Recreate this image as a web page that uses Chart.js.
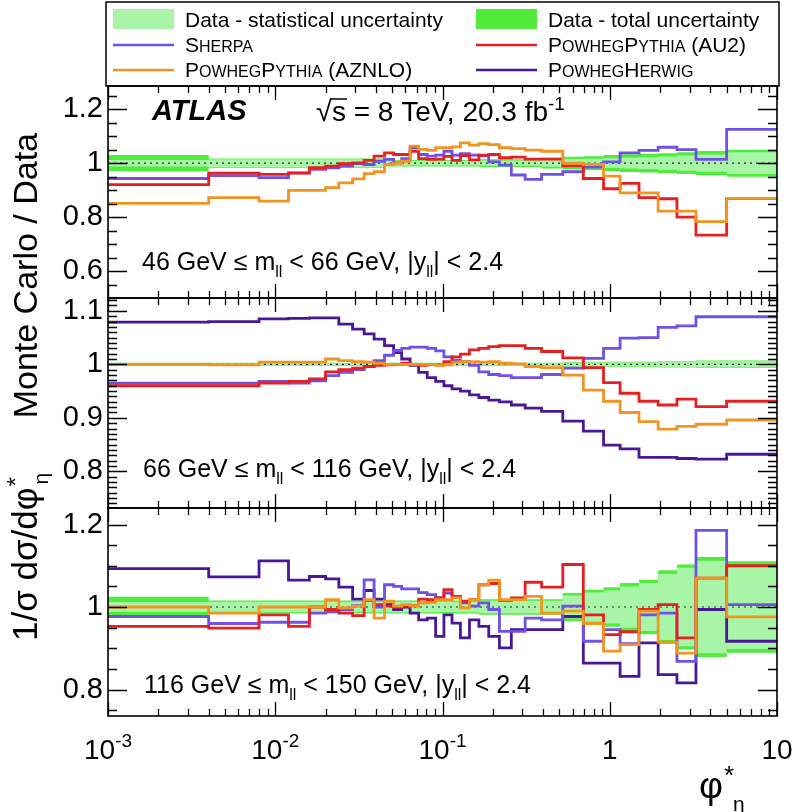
<!DOCTYPE html>
<html><head><meta charset="utf-8">
<script src="https://cdn.jsdelivr.net/npm/chart.js@4.4.1/dist/chart.umd.min.js"></script>
<style>
html,body{margin:0;padding:0;background:#fff;}
#wrap{position:relative;width:796px;height:812px;overflow:hidden;}
#wrap canvas{position:absolute;left:0;top:0;}
</style></head><body>
<div id="wrap">
<canvas id="c1" width="796" height="812"></canvas>
<canvas id="c2" width="796" height="812"></canvas>
<canvas id="c3" width="796" height="812"></canvas>
</div>
<script>
// ---------------- data ----------------
const binEdges = [0.001,0.004,0.008,0.012,0.016,0.020,0.024,0.029,0.034,0.039,0.045,0.051,0.057,0.064,0.072,0.081,0.091,0.102,0.114,0.128,0.145,0.165,0.189,0.219,0.258,0.312,0.391,0.524,0.695,0.918,1.153,1.496,1.947,2.522,3.277,5.0,10.0];

// 46 GeV <= mll < 66 GeV
const m46Sherpa = [0.943,0.954,0.946,0.964,0.977,0.983,0.989,0.998,0.995,1.007,1.014,1.001,1.017,1.057,1.032,1.026,1.030,1.044,1.030,1.035,1.030,1.027,1.005,0.993,0.956,0.940,0.958,0.968,0.985,1.005,1.038,1.047,1.059,1.050,1.014,1.125];
const m46PowPyAU2 = [0.920,0.963,0.958,0.963,0.983,0.989,0.998,1.001,1.010,1.026,1.038,1.032,1.032,1.044,1.017,1.014,1.015,1.025,1.010,1.028,1.012,1.030,1.032,1.020,1.022,1.015,1.015,0.990,0.943,0.905,0.925,0.872,0.868,0.800,0.733,0.869];
const m46PowPyAZNLO = [0.851,0.872,0.859,0.899,0.899,0.909,0.927,0.942,0.961,0.968,0.995,1.000,1.007,1.063,1.051,1.047,1.057,1.057,1.060,1.075,1.067,1.072,1.069,1.057,1.054,1.048,1.044,1.000,0.995,0.952,0.890,0.890,0.822,0.822,0.783,0.869];
const m46StatUnc = [0.012,0.014,0.014,0.014,0.014,0.014,0.014,0.014,0.014,0.014,0.009,0.009,0.009,0.009,0.009,0.009,0.009,0.009,0.009,0.009,0.009,0.010,0.010,0.010,0.010,0.010,0.013,0.015,0.016,0.018,0.020,0.022,0.025,0.028,0.032,0.040];
const m46TotUnc = [0.030,0.017,0.017,0.017,0.017,0.017,0.017,0.017,0.017,0.017,0.012,0.012,0.012,0.012,0.012,0.012,0.012,0.012,0.012,0.012,0.012,0.014,0.014,0.014,0.014,0.014,0.020,0.024,0.026,0.030,0.033,0.035,0.037,0.040,0.045,0.050];

// 66 GeV <= mll < 116 GeV
const m66Sherpa = [0.965,0.965,0.968,0.965,0.969,0.979,0.985,0.990,0.996,1.007,1.017,1.026,1.030,1.032,1.032,1.030,1.025,1.014,1.008,1.005,0.998,0.986,0.981,0.979,0.975,0.975,0.981,0.993,1.011,1.030,1.049,1.050,1.069,1.072,1.089,1.089];
const m66PowPyAU2 = [0.960,0.960,0.965,0.968,0.973,0.986,0.990,0.993,0.996,0.998,0.999,1.000,1.002,1.000,0.998,1.000,0.999,1.005,1.014,1.019,1.027,1.030,1.033,1.035,1.035,1.030,1.024,1.012,0.994,0.966,0.946,0.931,0.924,0.935,0.921,0.931];
const m66PowPyAZNLO = [1.000,0.999,1.004,1.004,1.004,1.010,1.007,1.005,1.004,1.002,1.000,1.000,1.000,1.000,1.000,1.000,0.998,0.999,1.004,1.005,1.005,1.004,1.005,1.002,1.001,0.996,0.994,0.980,0.952,0.931,0.910,0.893,0.879,0.884,0.888,0.896];
const m66PowHerwig = [1.079,1.080,1.085,1.086,1.087,1.087,1.075,1.066,1.057,1.047,1.035,1.022,1.010,0.998,0.985,0.975,0.968,0.960,0.954,0.950,0.943,0.938,0.933,0.930,0.924,0.918,0.912,0.894,0.875,0.849,0.842,0.826,0.826,0.824,0.823,0.832];
const m66StatUnc = [0.002,0.002,0.002,0.002,0.002,0.002,0.002,0.002,0.002,0.002,0.002,0.002,0.002,0.002,0.002,0.002,0.002,0.002,0.002,0.002,0.002,0.002,0.002,0.002,0.002,0.002,0.002,0.003,0.003,0.004,0.004,0.004,0.005,0.005,0.006,0.006];
const m66TotUnc = [0.003,0.003,0.003,0.003,0.003,0.003,0.003,0.003,0.003,0.003,0.003,0.003,0.003,0.003,0.003,0.003,0.003,0.003,0.003,0.003,0.003,0.003,0.003,0.003,0.003,0.003,0.003,0.004,0.004,0.005,0.005,0.005,0.006,0.006,0.007,0.007];

// 116 GeV <= mll < 150 GeV
const m116Sherpa = [0.977,0.960,0.963,0.963,0.985,0.989,0.994,1.003,1.066,1.000,1.054,1.050,1.044,1.044,1.035,1.030,1.022,1.034,1.026,1.010,1.002,1.010,0.994,0.941,0.941,0.973,0.969,1.002,0.917,0.945,0.911,0.981,0.985,0.868,1.186,1.006];
const m116PowPyAU2 = [0.953,0.949,0.981,0.953,1.000,0.994,0.985,0.979,1.016,1.006,1.002,1.000,1.002,1.003,1.019,1.018,1.022,1.042,1.026,1.014,1.018,1.054,1.057,1.016,1.022,1.060,1.048,1.103,0.981,0.933,0.940,0.994,1.006,0.925,1.070,1.100];
const m116PowPyAZNLO = [1.000,0.985,1.000,1.000,1.000,1.018,0.998,1.002,1.018,0.973,1.014,1.002,1.006,1.003,1.010,1.011,1.018,1.018,1.022,0.998,1.018,1.054,1.065,1.018,1.018,1.026,0.985,0.990,0.960,0.893,0.909,0.990,0.915,0.888,1.070,0.976];
const m116PowHerwig = [1.093,1.073,1.112,1.065,1.074,1.068,1.048,1.019,1.040,1.019,1.006,0.994,1.000,0.985,0.969,0.973,0.929,0.981,0.961,0.925,0.969,0.953,0.929,0.901,0.945,0.945,0.945,0.977,0.864,0.864,0.832,0.913,0.836,0.816,0.994,0.917];
const m116StatUnc = [0.012,0.013,0.013,0.013,0.013,0.013,0.013,0.013,0.013,0.013,0.013,0.013,0.013,0.013,0.013,0.013,0.013,0.013,0.013,0.013,0.013,0.015,0.015,0.015,0.015,0.015,0.015,0.028,0.035,0.040,0.050,0.058,0.080,0.095,0.112,0.102];
const m116TotUnc = [0.025,0.016,0.016,0.016,0.016,0.016,0.016,0.016,0.016,0.016,0.016,0.016,0.016,0.016,0.016,0.016,0.016,0.016,0.016,0.016,0.016,0.019,0.019,0.019,0.019,0.019,0.019,0.034,0.042,0.048,0.058,0.066,0.089,0.103,0.121,0.111];

// tick labels
const m46YTicks = [0.6, 0.8, 1, 1.2];
const m66YTicks = [0.8, 0.9, 1, 1.1];
const m116YTicks = [0.8, 1, 1.2];
const xTickValues = [0.001, 0.01, 0.1, 1, 10];
const xTickLabels = [['10','-3'], ['10','-2'], ['10','-1'], ['1',''], ['10','']];

// ---------------- style ----------------
const FONT = '"Liberation Sans", Arial, Helvetica, sans-serif';
const C_SHERPA = '#7050e6', C_AU2 = '#e62020', C_AZNLO = '#f29422', C_HERWIG = '#4a1896';
const C_STAT = '#a8f5a8', C_TOT = '#4fec3c';
const LW = 2.8;

function fnt(size, style) { return (style ? style + ' ' : '') + size + 'px ' + FONT; }
function drawRuns(ctx, x, y, runs) {
  for (const r of runs) {
    const [t, size, dy, style] = r;
    ctx.font = fnt(size, style || '');
    ctx.fillText(t, x, y + (dy || 0));
    x += ctx.measureText(t).width;
  }
  return x;
}
function steps(vals) {
  const pts = [];
  vals.forEach((v, i) => { pts.push({x: binEdges[i], y: v}); pts.push({x: binEdges[i + 1], y: v}); });
  return pts;
}
function lineDs(vals, color) {
  return {data: steps(vals), borderColor: color, borderWidth: LW, pointRadius: 0, fill: false, tension: 0, order: 0};
}
function bandDs(center, unc, color, order) {
  return [
    {data: steps(unc.map(e => 1 - e)), borderColor: 'rgba(0,0,0,0)', borderWidth: 0, pointRadius: 0, fill: false, order: order},
    {data: steps(unc.map(e => 1 + e)), borderColor: 'rgba(0,0,0,0)', borderWidth: 0, pointRadius: 0, fill: '-1', backgroundColor: color, order: order}
  ];
}

// frame + inward ticks, drawn from the library scales
const framePlugin = {
  id: 'frame',
  afterDatasetsDraw(chart, args, opts) {
    const {ctx, chartArea: a} = chart;
    const x = chart.scales.x, y = chart.scales.y;
    ctx.save();
    ctx.strokeStyle = '#000';
    ctx.lineWidth = 1.3;
    ctx.beginPath();
    for (let d = -3; d <= 1; d++) {
      for (let m = 1; m <= 9; m++) {
        const v = m * Math.pow(10, d);
        if (v < x.min * 0.999 || v > x.max * 1.001) continue;
        const px = Math.round(x.getPixelForValue(v)) + 0.5;
        const len = m === 1 ? 14 : 7;
        ctx.moveTo(px, a.bottom); ctx.lineTo(px, a.bottom - len);
        ctx.moveTo(px, a.top); ctx.lineTo(px, a.top + len);
      }
    }
    const n0 = Math.ceil(y.min / opts.minor - 1e-6), n1 = Math.floor(y.max / opts.minor + 1e-6);
    for (let n = n0; n <= n1; n++) {
      const v = n * opts.minor;
      const isMajor = Math.abs(v / opts.major - Math.round(v / opts.major)) < 1e-6;
      const py = Math.round(y.getPixelForValue(v)) + 0.5;
      const len = isMajor ? 19 : 9;
      ctx.moveTo(a.left, py); ctx.lineTo(a.left + len, py);
      ctx.moveTo(a.right, py); ctx.lineTo(a.right - len, py);
    }
    ctx.stroke();
    ctx.lineWidth = 1.6;
    ctx.strokeRect(a.left, a.top, a.right - a.left, a.bottom - a.top);
    ctx.restore();
    if (opts.draw) opts.draw(ctx, chart);
  }
};

function makePanel(id, p) {
  const datasets = [
    ...bandDs(1, p.tot, C_TOT, 3),
    ...bandDs(1, p.stat, C_STAT, 2),
    {data: [{x: binEdges[0], y: 1}, {x: binEdges[binEdges.length - 1], y: 1}], borderColor: '#222', borderWidth: 1.2, borderDash: [2, 4], pointRadius: 0, fill: false, order: 1}
  ];
  p.lines.forEach(l => datasets.push(lineDs(l[0], l[1])));
  return new Chart(document.getElementById(id), {
    type: 'line',
    data: {datasets},
    plugins: [framePlugin],
    options: {
      animation: false, responsive: false, devicePixelRatio: 1, events: [],
      layout: {padding: {top: p.top, bottom: 812 - p.bottom, left: 0, right: 19}},
      plugins: {legend: {display: false}, tooltip: {enabled: false}, frame: {major: p.major, minor: p.minor, draw: p.draw}},
      scales: {
        x: {type: 'logarithmic', min: 0.001, max: 10, display: false},
        y: {
          type: 'linear', min: p.ymin, max: p.ymax,
          afterFit(s) { s.width = 108; },
          afterBuildTicks(s) { s.ticks = p.yticks.map(v => ({value: v})); },
          ticks: {font: {family: FONT, size: 29}, color: '#000', padding: 5, callback: v => String(v)},
          grid: {display: false, drawTicks: false},
          border: {display: false}
        }
      }
    }
  });
}

function massLabel(ctx, x, y, lo, hi) {
  ctx.fillStyle = '#000'; ctx.textBaseline = 'alphabetic'; ctx.textAlign = 'left';
  drawRuns(ctx, x, y, [[lo + ' GeV \u2264 m', 25], ['ll', 16, 7], [' < ' + hi + ' GeV, |y', 25], ['ll', 16, 7], ['| < 2.4', 25]]);
}

function smallCaps(ctx, x, y, runs) {
  const out = [];
  for (const [t, big] of runs) out.push([t, big ? 21 : 16]);
  return drawRuns(ctx, x, y, out);
}

// ---------------- panels ----------------
makePanel('c1', {
  top: 86, bottom: 298, ymin: 0.5, ymax: 1.286, yticks: m46YTicks, major: 0.2, minor: 0.05,
  tot: m46TotUnc, stat: m46StatUnc,
  lines: [[m46PowPyAZNLO, C_AZNLO], [m46PowPyAU2, C_AU2], [m46Sherpa, C_SHERPA]],
  draw(ctx, chart) {
    ctx.save();
    ctx.fillStyle = '#000'; ctx.textAlign = 'left'; ctx.textBaseline = 'alphabetic';
    // legend
    ctx.strokeStyle = '#000'; ctx.lineWidth = 1.5;
    ctx.strokeRect(106, 2, 673, 84);
    ctx.fillStyle = C_STAT; ctx.fillRect(113, 9, 61, 20);
    ctx.fillStyle = C_TOT; ctx.fillRect(476, 9, 61, 20);
    const legLines = [[C_SHERPA, 113, 45], [C_AZNLO, 113, 70], [C_AU2, 476, 45], [C_HERWIG, 476, 70]];
    ctx.lineWidth = 2.6;
    for (const [c, lx, ly] of legLines) { ctx.strokeStyle = c; ctx.beginPath(); ctx.moveTo(lx, ly); ctx.lineTo(lx + 61, ly); ctx.stroke(); }
    ctx.fillStyle = '#000';
    drawRuns(ctx, 185, 27, [['Data - statistical uncertainty', 21]]);
    drawRuns(ctx, 548, 27, [['Data - total uncertainty', 21]]);
    smallCaps(ctx, 185, 52, [['S', 1], ['HERPA', 0]]);
    smallCaps(ctx, 548, 52, [['P', 1], ['OWHEG', 0], ['P', 1], ['YTHIA', 0], [' (AU2)', 1]]);
    smallCaps(ctx, 185, 77, [['P', 1], ['OWHEG', 0], ['P', 1], ['YTHIA', 0], [' (AZNLO)', 1]]);
    smallCaps(ctx, 548, 77, [['P', 1], ['OWHEG', 0], ['H', 1], ['ERWIG', 0]]);
    // ATLAS label
    ctx.font = fnt(29, 'italic bold');
    ctx.fillText('ATLAS', 152, 120);
    let x = drawRuns(ctx, 316, 121, [['\u221A', 29]]);
    ctx.font = fnt(28);
    const sw = ctx.measureText('s').width;
    ctx.fillText('s', x, 121);
    ctx.lineWidth = 1.5; ctx.strokeStyle = '#000';
    ctx.beginPath(); ctx.moveTo(x - 1, 99); ctx.lineTo(x + sw + 1, 99); ctx.stroke();
    x = drawRuns(ctx, x + sw, 121, [[' = 8 TeV, 20.3 fb', 28], ['-1', 19, -11]]);
    massLabel(ctx, 142, 270, '46', '66');
    ctx.restore();
  }
});

makePanel('c2', {
  top: 298, bottom: 508, ymin: 0.7315, ymax: 1.124, yticks: m66YTicks, major: 0.1, minor: 0.01,
  tot: m66TotUnc, stat: m66StatUnc,
  lines: [[m66PowPyAZNLO, C_AZNLO], [m66PowPyAU2, C_AU2], [m66Sherpa, C_SHERPA], [m66PowHerwig, C_HERWIG]],
  draw(ctx) {
    ctx.save();
    massLabel(ctx, 143, 477, '66', '116');
    // y-axis title (rotated)
    ctx.translate(37, 641);
    ctx.rotate(-Math.PI / 2);
    ctx.fillStyle = '#000'; ctx.textAlign = 'left'; ctx.textBaseline = 'alphabetic';
    let x = drawRuns(ctx, 0, 0, [['1/\u03C3 d\u03C3/d\u03C6', 35]]);
    drawRuns(ctx, x + 1, -13, [['*', 24]]);
    drawRuns(ctx, x + 3, 11, [['\u03B7', 21]]);
    ctx.textAlign = 'right';
    ctx.font = fnt(34);
    ctx.fillText('Monte Carlo / Data', 508, 0);
    ctx.restore();
  }
});

makePanel('c3', {
  top: 508, bottom: 716, ymin: 0.7358, ymax: 1.24, yticks: m116YTicks, major: 0.2, minor: 0.05,
  tot: m116TotUnc, stat: m116StatUnc,
  lines: [[m116PowPyAZNLO, C_AZNLO], [m116PowPyAU2, C_AU2], [m116Sherpa, C_SHERPA], [m116PowHerwig, C_HERWIG]],
  draw(ctx, chart) {
    ctx.save();
    massLabel(ctx, 144, 693, '116', '150');
    // x tick labels from the log scale
    const xs = chart.scales.x;
    ctx.fillStyle = '#000'; ctx.textAlign = 'left'; ctx.textBaseline = 'alphabetic';
    xTickValues.forEach((v, i) => {
      const [b, e] = xTickLabels[i];
      ctx.font = fnt(28); const wb = ctx.measureText(b).width;
      ctx.font = fnt(19); const we = ctx.measureText(e).width;
      const px = xs.getPixelForValue(v);
      const x0 = px - (wb + we) / 2;
      drawRuns(ctx, x0, 759, [[b, 28], [e, 19, -12]]);
    });
    // x-axis title
    let x = drawRuns(ctx, 699, 798, [['\u03C6', 37]]);
    drawRuns(ctx, x + 1, 784, [['*', 26]]);
    drawRuns(ctx, x + 10, 811, [['\u03B7', 21]]);
    ctx.restore();
  }
});
</script>
</body></html>
